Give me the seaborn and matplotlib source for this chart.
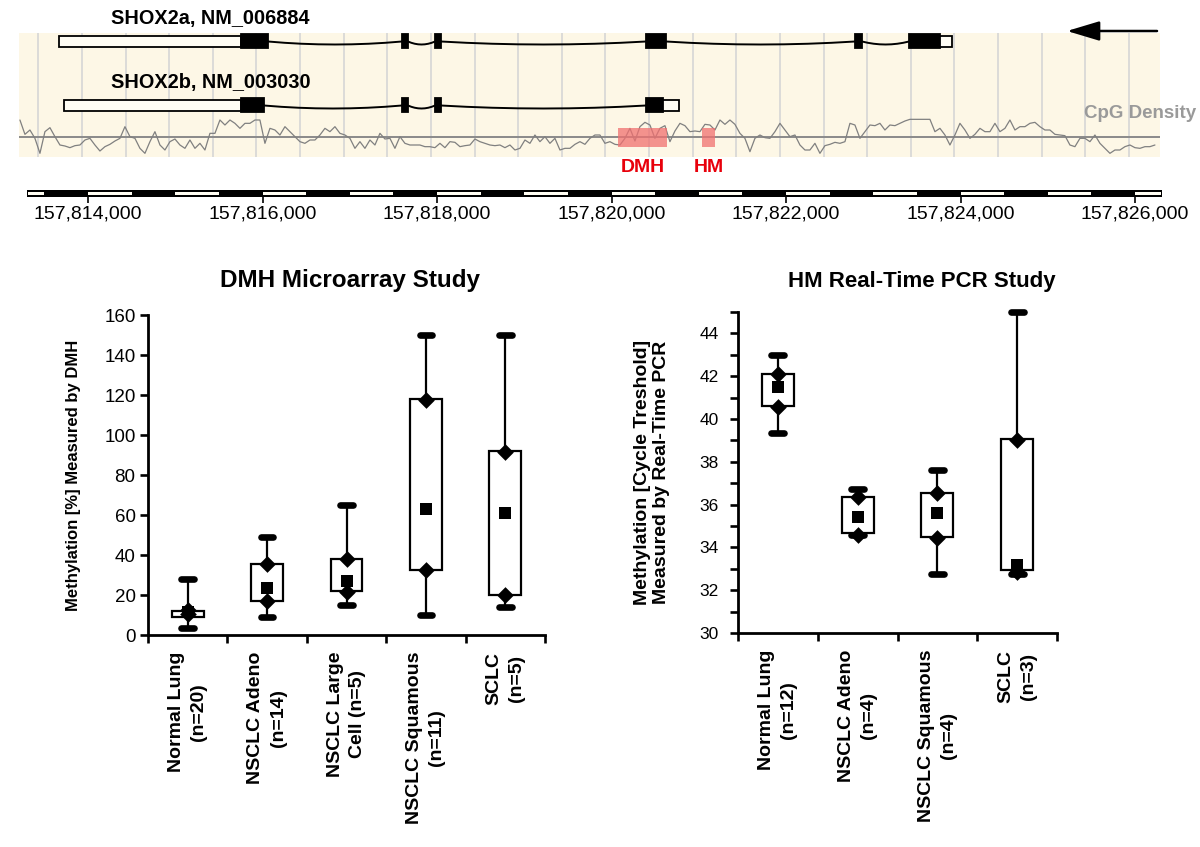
import numpy as np
import pandas as pd
import matplotlib
matplotlib.use('Agg')
import matplotlib.pyplot as plt
from matplotlib.patches import Rectangle
from matplotlib import font_manager
from matplotlib.ticker import MultipleLocator, StrMethodFormatter
import seaborn as sns

# ---------------- genome track data (chr positions, bp) ----------------
shox2a_exons = [(157813668, 157815753, 'utr'), (157815753, 157816063, 'cds'),
                (157817598, 157817667, 'cds'), (157817977, 157818045, 'cds'),
                (157820395, 157820624, 'cds'), (157822790, 157822870, 'cds'),
                (157823409, 157823764, 'cds'), (157823764, 157823901, 'utr')]
shox2b_exons = [(157813725, 157815753, 'utr'), (157815753, 157816017, 'cds'),
                (157817598, 157817667, 'cds'), (157817977, 157818045, 'cds'),
                (157820395, 157820590, 'cds'), (157820590, 157820773, 'utr')]
dmh_region = (157820074, 157820635)
hm_region = (157821036, 157821185)
strand_arrow = (157826251, 157825219)
track_span = (157813209, 157826285)
ruler_span = (157813301, 157826308)
ruler_ticks = [157814000, 157816000, 157818000, 157820000, 157822000, 157824000, 157826000]

# CpG density, sampled every ~57 bp from the left edge of the track
cpg_start = 157813220
cpg_step = 57.3
cpg_density = [
    50, 7, 20, -5, -50, 15, 27, 0, -25, -28, -33, -27, -25, -10, -5, -25, -43, -30, -23, -13,
    -5, 30, 0, -5, -35, -50, -15, 15, -25, -40, -15, -7, -25, -35, -10, -35, -20, -40, 10, 10,
    50, 35, 50, 40, 25, 40, 40, 50, 50, -20, 25, 20, 5, 30, 15, 0, -15, -20, -10, -10,
    5, 25, 15, 30, 10, 5, -5, -35, -15, -35, -10, -25, 10, -7, -5, -35,
    0, -20, -25, -25, -25, -30, -30, -33, -20, -33, -15, -17, -30, -27, -25, -7, -15, -20, -25, -27,
    -25, -33, -25, -40, -35, -10, -20, 5, -15, 0, -20, -5, -40, -35, -35, -23, -15, -23, -5, 5,
    5, -20, -15, -23, -25, -5, 25, -13, 30, 43, 35, -5, 25, 33, -15, 17, 40, 33, 15, 17,
    15, 37, 35, 20, 50, 37, 50, 37, 10, -5, -45, -5, 5, -3, -5, 15,
    40, 20, 0, 5, -25, -40, -40, -20, -50, -27, -23, -17, -20, -15, 40, 35, -5, 15, 35, 33,
    40, 20, 35, 33, 40, 47, 52, 52, 52, 52, 52, 15, 25, 5, -25, 5, 40, 20, -5, 7,
    25, 15, 15, 40, 15, 25, 50, 20, 30, 30, 40, 43, 30, 20, 20, 7, 5, 3, -25, -30,
    -5, -5, -15, 5, -20, -35, -50, -40, -40, -30, -25, -33, -35, -30, -30, -25]

# ---------------- DMH microarray study ----------------
dmh_groups = ['Normal Lung\n(n=20)', 'NSCLC Adeno\n(n=14)', 'NSCLC Large\nCell (n=5)',
              'NSCLC Squamous\n(n=11)', 'SCLC\n(n=5)']
dmh_min = [3.5, 8.8, 15, 10, 14]
dmh_q1 = [9.2, 16.8, 22, 32.5, 19.8]
dmh_mean = [11.7, 23.5, 27, 63, 61]
dmh_q3 = [12.2, 35.5, 38, 118, 92]
dmh_max = [28, 49, 65, 150, 150]
dmh_dia_lo = [10.5, 17, 21.5, 32.5, 20]
dmh_dia_hi = [12.5, 35.5, 37.8, 117.5, 91.5]

# ---------------- HM real-time PCR study ----------------
hm_groups = ['Normal Lung\n(n=12)', 'NSCLC Adeno\n(n=4)', 'NSCLC Squamous\n(n=4)', 'SCLC\n(n=3)']
hm_min = [39.33, 34.57, 32.76, 32.76]
hm_q1 = [40.6, 34.68, 34.48, 32.96]
hm_mean = [41.48, 35.4, 35.6, 33.17]
hm_q3 = [42.1, 36.36, 36.55, 39.06]
hm_max = [43.0, 36.72, 37.6, 45.0]
hm_dia_lo = [40.55, 34.6, 34.45, 32.85]
hm_dia_hi = [42.1, 36.36, 36.52, 39.0]

sns.set_style('white')
plt.rcParams['font.family'] = ['Liberation Sans', 'DejaVu Sans']
for k in ('text.color', 'axes.labelcolor', 'xtick.color', 'ytick.color', 'axes.edgecolor'):
    plt.rcParams[k] = 'black'
names = {f.name for f in font_manager.fontManager.ttflist}
narrow = 'Liberation Sans Narrow' if 'Liberation Sans Narrow' in names else 'Liberation Sans'

W, H = 1200, 847
fig = plt.figure(figsize=(12, 8.47), dpi=100)


def px_axes(x0, y0, x1, y1):
    return fig.add_axes([x0 / W, 1 - y1 / H, (x1 - x0) / W, (y1 - y0) / H])


bp_per_px = 11.46
gx0 = 157814000 - 88 * bp_per_px
gx1 = gx0 + W * bp_per_px
beige = '#fdf7e6'

# ---- gene models ----
axg = px_axes(0, 0, W, 180)
axg.set_xlim(gx0, gx1)
axg.set_ylim(180, 0)
axg.axis('off')
axg.add_patch(Rectangle((track_span[0], 33), track_span[1] - track_span[0], 124,
                        facecolor=beige, edgecolor='none', zorder=0))
axg.vlines(np.arange(157813430, 157826000, 500), 33, 157, color='#d6d6d6', lw=1.2, zorder=1)


def draw_gene(exons, row, label):
    for (s0, e0, _), (s1, e1, _) in zip(exons[:-1], exons[1:]):
        if s1 > e0:
            t = np.linspace(0, 1, 9)
            axg.plot(e0 + (s1 - e0) * t, row + 12 * t * (1 - t), color='black', lw=1.4, zorder=2)
    for s, e, kind in exons:
        h = 14 if kind == 'cds' else 11
        axg.add_patch(Rectangle((s, row - h / 2), e - s, h, lw=1.3, edgecolor='black',
                                facecolor='black' if kind == 'cds' else '#fffdf4', zorder=3))
    axg.text(157814264, row - 23, label, fontsize=14.3, fontweight='bold', va='center', ha='left')


draw_gene(shox2a_exons, 41.5, 'SHOX2a, NM_006884')
draw_gene(shox2b_exons, 105.5, 'SHOX2b, NM_003030')
axg.annotate('', xy=(strand_arrow[1], 31), xytext=(strand_arrow[0], 31),
             arrowprops=dict(arrowstyle='-|>,head_length=2.0,head_width=0.6', color='black',
                             lw=1.8, mutation_scale=10, shrinkA=0, shrinkB=0))
axg.text(157826698, 113, 'CpG Density', color='#9a9a9a', fontsize=13.5, fontweight='bold',
         ha='right', va='center')
axg.text(sum(dmh_region) / 2, 167, 'DMH', color='#e8000b', fontsize=14, fontweight='bold',
         ha='center', va='center')
axg.text(sum(hm_region) / 2, 167, 'HM', color='#e8000b', fontsize=14, fontweight='bold',
         ha='center', va='center')

# ---- CpG density track ----
axc = px_axes(0, 115, W, 157)
axc.patch.set_alpha(0)
cpg_pos = cpg_start + cpg_step * np.arange(len(cpg_density))
sns.lineplot(x=cpg_pos, y=cpg_density, ax=axc, color='#808080', linewidth=0.9, zorder=2)
axc.hlines(0, track_span[0], track_span[1], color='#8a8a8a', lw=1.4, zorder=1)
for s, e in (dmh_region, hm_region):
    axc.axvspan(s, e, ymin=0.238, ymax=0.69, color='#f07070', alpha=0.75, lw=0, zorder=3)
axc.set_xlim(gx0, gx1)
axc.set_ylim(-61, 65)
axc.axis('off')

# ---- ruler ----
axs = px_axes(0, 190, W, 197)
axs.patch.set_alpha(0)
axs.set_xlim(gx0, gx1)
axs.set_ylim(0, 1)
axs.axvspan(ruler_span[0], ruler_span[1], color='black', lw=0)
for s in range(157813000, 157827000, 1000):
    a, b = max(s, ruler_span[0] + 15), min(s + 500, ruler_span[1] - 15)
    if b > a:
        axs.axvspan(a, b, ymin=0.27, ymax=0.73, color='#fffdf2', lw=0)
for sp in axs.spines.values():
    sp.set_visible(False)
axs.set_yticks([])
axs.set_xticks(ruler_ticks)
axs.xaxis.set_major_formatter(StrMethodFormatter('{x:,.0f}'))
axs.tick_params(axis='x', bottom=True, direction='out', length=4, width=1.2, pad=2,
                labelsize=16.5 if narrow != 'Liberation Sans' else 14)
for t in axs.get_xticklabels():
    t.set_family(narrow)


# ---- box panels ----
def box_panel(ax, groups, lo, q1, mid, q3, hi, dlo, dhi):
    df = pd.DataFrame({'group': np.repeat(groups, 5),
                       'value': np.column_stack([lo, q1, mid, q3, hi]).ravel()})
    sns.boxplot(data=df, x='group', y='value', ax=ax, whis=(0, 100), width=0.4,
                color='white', linecolor='black', linewidth=1.6, fliersize=0,
                capwidths=0.16,
                capprops=dict(linewidth=4.8, solid_capstyle='round', clip_on=False),
                whiskerprops=dict(clip_on=False),
                medianprops=dict(visible=False))
    for vals, mk, sz in ((dlo, 'D', 8.5), (dhi, 'D', 8.5), (mid, 's', 8.5)):
        sns.stripplot(x=groups, y=vals, ax=ax, jitter=False, marker=mk, size=sz,
                      color='black', linewidth=0, zorder=5, clip_on=False)
    n = len(groups)
    ax.set_xlim(-0.5, n - 0.5)
    ax.set_xticks(np.arange(n + 1) - 0.5)
    ax.set_xticklabels([''] * (n + 1))
    ax.set_xticks(np.arange(n), minor=True)
    ax.set_xticklabels(groups, minor=True, rotation=90, va='top', ha='center',
                       fontweight='bold', fontsize=14, linespacing=1.4, multialignment='center')
    ax.tick_params(axis='x', which='minor', length=0, pad=12)
    ax.tick_params(axis='x', which='major', length=6, width=1.9, direction='out', bottom=True)
    ax.tick_params(axis='y', which='both', length=6, width=1.9, direction='out', left=True)
    ax.set_xlabel('')
    sns.despine(ax=ax)
    for sp in ('left', 'bottom'):
        ax.spines[sp].set_linewidth(2.0)


axL = px_axes(148, 315, 545, 635)
box_panel(axL, dmh_groups, dmh_min, dmh_q1, dmh_mean, dmh_q3, dmh_max, dmh_dia_lo, dmh_dia_hi)
axL.set_ylim(0, 160)
axL.yaxis.set_major_locator(MultipleLocator(20))
axL.tick_params(axis='y', labelsize=13.5, pad=3)
axL.set_ylabel('Methylation [%] Measured by DMH', fontsize=12, fontweight='bold')
axL.yaxis.set_label_coords(-0.169, 0.5)
axL.set_title('DMH Microarray Study', fontsize=17.5, fontweight='bold', pad=20, x=0.509)

axR = px_axes(738, 312, 1057, 633)
box_panel(axR, hm_groups, hm_min, hm_q1, hm_mean, hm_q3, hm_max, hm_dia_lo, hm_dia_hi)
axR.set_ylim(30, 45)
axR.yaxis.set_major_locator(MultipleLocator(2))
axR.yaxis.set_minor_locator(MultipleLocator(1))
axR.tick_params(axis='y', labelsize=12.5, pad=8)
axR.set_ylabel('Methylation [Cycle Treshold]\nMeasured by Real-Time PCR', fontsize=14,
               fontweight='bold', linespacing=1.15)
axR.yaxis.set_label_coords(-0.213, 0.5)
axR.set_title('HM Real-Time PCR Study', fontsize=16, fontweight='bold', pad=18, x=0.577)

fig.savefig('out.png', dpi=100)
